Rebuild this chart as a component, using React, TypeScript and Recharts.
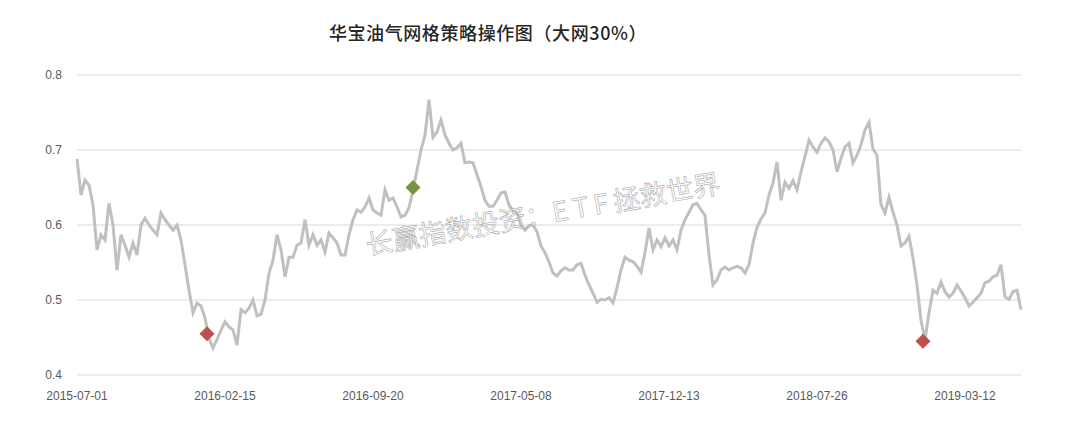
import React from 'react'
import { ComposedChart, Line, Scatter, XAxis, YAxis, CartesianGrid } from 'recharts'

// x-axis date labels, one every LABEL_STEP samples
const dateLabels = ['2015-07-01', '2016-02-15', '2016-09-20', '2017-05-08', '2017-12-13', '2018-07-26', '2019-03-12']
const LABEL_STEP = 37

const yTicks = [0.4, 0.5, 0.6, 0.7, 0.8]

// 华宝油气 net value, sampled evenly from 2015-07-01
const nav = [
  0.688, 0.64, 0.66, 0.653, 0.627, 0.567, 0.587, 0.58, 0.629, 0.6,
  0.54, 0.587, 0.573, 0.557, 0.576, 0.56, 0.6, 0.609, 0.6, 0.593,
  0.587, 0.616, 0.607, 0.6, 0.593, 0.6, 0.58, 0.547, 0.513, 0.483,
  0.496, 0.492, 0.476, 0.449, 0.436, 0.447, 0.46, 0.471, 0.464, 0.46,
  0.44, 0.487, 0.483, 0.489, 0.5, 0.479, 0.481, 0.5, 0.536, 0.553,
  0.587, 0.567, 0.531, 0.557, 0.557, 0.573, 0.576, 0.607, 0.573, 0.587,
  0.573, 0.58, 0.564, 0.589, 0.583, 0.576, 0.56, 0.56, 0.587, 0.607,
  0.62, 0.617, 0.624, 0.636, 0.62, 0.616, 0.613, 0.647, 0.633, 0.636,
  0.624, 0.611, 0.613, 0.623, 0.647, 0.673, 0.7, 0.72, 0.767, 0.717,
  0.724, 0.74, 0.72, 0.709, 0.7, 0.703, 0.709, 0.683, 0.684, 0.683,
  0.667, 0.651, 0.633, 0.625, 0.625, 0.633, 0.643, 0.644, 0.627, 0.619,
  0.616, 0.6, 0.593, 0.599, 0.6, 0.591, 0.572, 0.563, 0.551, 0.536,
  0.532, 0.539, 0.543, 0.54, 0.54, 0.547, 0.549, 0.533, 0.52, 0.509,
  0.497, 0.501, 0.5, 0.503, 0.496, 0.516, 0.54, 0.557, 0.553, 0.551,
  0.545, 0.537, 0.563, 0.596, 0.567, 0.58, 0.571, 0.583, 0.572, 0.58,
  0.567, 0.593, 0.607, 0.617, 0.627, 0.629, 0.62, 0.613, 0.56, 0.52,
  0.527, 0.54, 0.544, 0.54, 0.543, 0.545, 0.543, 0.536, 0.547, 0.576,
  0.597, 0.608, 0.616, 0.64, 0.656, 0.684, 0.633, 0.657, 0.649, 0.659,
  0.647, 0.671, 0.691, 0.713, 0.704, 0.697, 0.709, 0.716, 0.711, 0.7,
  0.671, 0.689, 0.704, 0.709, 0.683, 0.693, 0.707, 0.727, 0.737, 0.701,
  0.693, 0.627, 0.616, 0.637, 0.617, 0.6, 0.572, 0.576, 0.585, 0.556,
  0.52, 0.473, 0.447, 0.483, 0.513, 0.509, 0.524, 0.511, 0.504, 0.509,
  0.52, 0.512, 0.503, 0.492, 0.497, 0.503, 0.509, 0.523, 0.525, 0.531,
  0.533, 0.547, 0.504, 0.501, 0.511, 0.513, 0.487,
]

// grid trades: sample position, price, side
const tradeAt = [32.5, 84, 211.5]
const tradePrice = [0.455, 0.65, 0.445]
const tradeSide = ['buy', 'sell', 'buy']

const lineData = nav.map((v, i) => ({ i, v }))
const tradeData = tradeAt.map((i, k) => ({ i, v: tradePrice[k], side: tradeSide[k] }))
const xTicks = dateLabels.map((_, k) => k * LABEL_STEP)

const tickStyle = { fill: '#595959', fontSize: 12, fontFamily: '"Liberation Sans", Arial, sans-serif' }

const Diamond = ({ cx, cy, payload }: any) => {
  const r = 7.5
  const fill = payload.side === 'buy' ? '#c0504d' : '#77933c'
  return <path d={`M${cx},${cy - r}L${cx + r},${cy}L${cx},${cy + r}L${cx - r},${cy}Z`} fill={fill} />
}

export default function App() {
  return (
    <div style={{ position: 'absolute', left: 0, top: 0, width: 1080, height: 435, background: '#fff' }}>
      <div
        style={{
          position: 'absolute',
          top: 19,
          left: 0,
          width: 976,
          textAlign: 'center',
          fontFamily: '"Noto Sans CJK SC", sans-serif',
          fontSize: 18,
          fontWeight: 500,
          letterSpacing: 0.6,
          color: '#262626',
        }}
      >
        华宝油气网格策略操作图（大网30%）
      </div>
      <ComposedChart width={1080} height={435} data={lineData} margin={{ top: 75, right: 59, left: 0, bottom: 0 }}>
        <CartesianGrid vertical={false} stroke="#d9d9d9" />
        <XAxis
          dataKey="i"
          type="number"
          domain={[0, nav.length - 1]}
          ticks={xTicks}
          interval={0}
          tickFormatter={(v: number) => dateLabels[Math.round(v / LABEL_STEP)]}
          axisLine={false}
          tickLine={false}
          tick={tickStyle}
          tickMargin={10}
          height={60}
        />
        <YAxis
          type="number"
          domain={[0.4, 0.8]}
          ticks={yTicks}
          tickFormatter={(v: number) => v.toFixed(1)}
          axisLine={false}
          tickLine={false}
          tick={tickStyle}
          tickMargin={9}
          width={77}
        />
        <Line dataKey="v" stroke="#c0c0c0" strokeWidth={3} dot={false} isAnimationActive={false} />
        <Scatter data={tradeData} dataKey="v" shape={Diamond} isAnimationActive={false} />
      </ComposedChart>
      {/* watermark */}
      <svg width={1080} height={435} style={{ position: 'absolute', left: 0, top: 0, pointerEvents: 'none' }}>
        <text
          x={543}
          y={224}
          textAnchor="middle"
          transform="rotate(-10 543 215)"
          fontFamily='"Noto Sans CJK SC", sans-serif'
          fontSize={27}
          fill="rgba(255,255,255,0.35)"
          stroke="#ababab"
          strokeWidth={0.6}
        >
          长赢指数投资：<tspan letterSpacing={5}>ETF</tspan>拯救世界
        </text>
      </svg>
    </div>
  )
}
